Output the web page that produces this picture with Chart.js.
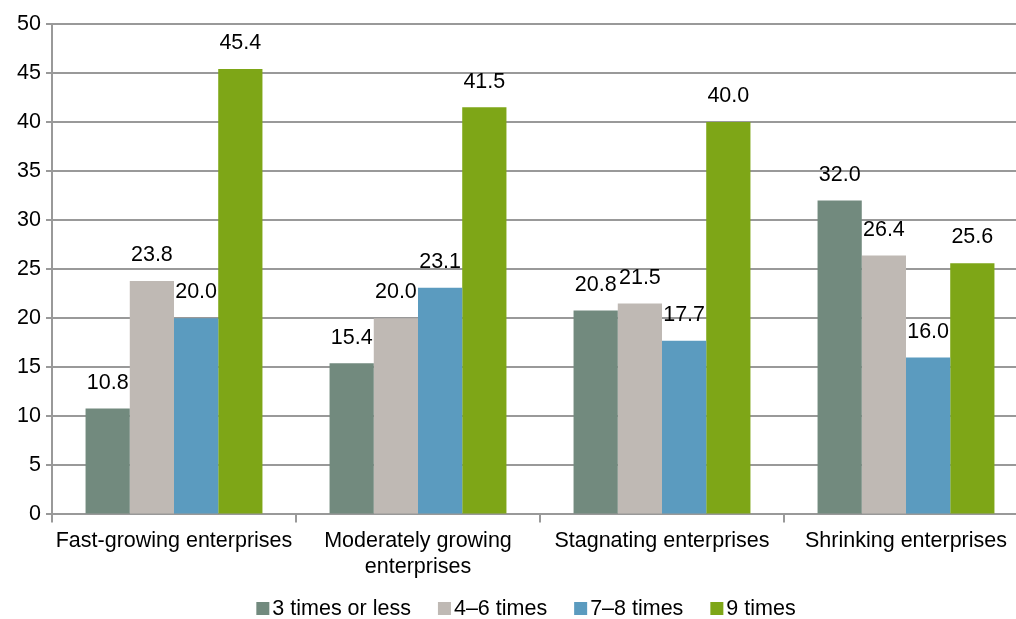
<!DOCTYPE html>
<html>
<head>
<meta charset="utf-8">
<script src="https://cdn.jsdelivr.net/npm/chart.js@4/dist/chart.umd.min.js"></script>
<style>
  html, body { margin: 0; padding: 0; background: #fff; overflow: hidden; }
  #wrap { width: 1016px; height: 619px; overflow: hidden; }
</style>
</head>
<body>
<div id="wrap"><canvas id="chart" width="1030" height="619"></canvas></div>
<script>
// categories and series
var categories = ['Fast-growing enterprises', ['Moderately growing', 'enterprises'], 'Stagnating enterprises', 'Shrinking enterprises'];
var seriesNames = ['3 times or less', '4\u20136 times', '7\u20138 times', '9 times'];
var times3OrLess = [10.8, 15.4, 20.8, 32.0];
var times4to6 = [23.8, 20.0, 21.5, 26.4];
var times7to8 = [20.0, 23.1, 17.7, 16.0];
var times9 = [45.4, 41.5, 40.0, 25.6];
var colors = ['#728a7e', '#bfb9b4', '#5b9bbf', '#7ea617'];

var FONT = '"Liberation Sans", Arial, sans-serif';
var FS = 21.5;

// value labels above each bar
var barLabels = {
  id: 'barLabels',
  afterDatasetsDraw: function (chart) {
    var ctx = chart.ctx;
    ctx.save();
    ctx.font = FS + 'px ' + FONT;
    ctx.fillStyle = '#000';
    ctx.textAlign = 'center';
    ctx.textBaseline = 'bottom';
    chart.data.datasets.forEach(function (ds, i) {
      chart.getDatasetMeta(i).data.forEach(function (bar, j) {
        ctx.fillText(ds.data[j].toFixed(1), bar.x, bar.y - 15);
      });
    });
    ctx.restore();
  }
};

// legend drawn by hand: the Excel one has the text tight against the box
var tightLegend = {
  id: 'tightLegend',
  afterDraw: function (chart) {
    var ctx = chart.ctx;
    var box = 13, gapText = 3, gapItem = 27, y = 608.5;
    ctx.save();
    ctx.font = FS + 'px ' + FONT;
    ctx.textBaseline = 'middle';
    var widths = chart.data.datasets.map(function (ds) { return ctx.measureText(ds.label).width; });
    var total = widths.reduce(function (a, w) { return a + box + gapText + w; }, 0) + gapItem * (widths.length - 1);
    var x = 526 - total / 2;
    chart.data.datasets.forEach(function (ds, i) {
      ctx.fillStyle = ds.backgroundColor;
      ctx.fillRect(x, y - box / 2, box, box);
      x += box + gapText;
      ctx.fillStyle = '#000';
      ctx.fillText(ds.label, x, y + 1);
      x += widths[i] + gapItem;
    });
    ctx.restore();
  }
};

var allSeries = [times3OrLess, times4to6, times7to8, times9];

new Chart(document.getElementById('chart'), {
  type: 'bar',
  data: {
    labels: categories,
    datasets: allSeries.map(function (vals, i) {
      return {
        label: seriesNames[i],
        data: vals,
        backgroundColor: colors[i],
        borderWidth: 0,
        categoryPercentage: 0.725,
        barPercentage: 1.0
      };
    })
  },
  options: {
    responsive: false,
    animation: false,
    layout: { padding: { top: 24, right: 2, left: 0, bottom: 33 } },
    plugins: {
      tooltip: { enabled: false },
      legend: { display: false }
    },
    scales: {
      x: {
        grid: { offset: true, drawOnChartArea: false, color: '#999', lineWidth: 2, tickLength: 8 },
        border: { color: '#999', width: 2 },
        ticks: { font: { size: FS, family: FONT, lineHeight: 1.2 }, color: '#000', maxRotation: 0, padding: 6 }
      },
      y: {
        min: 0,
        max: 50,
        afterFit: function (scale) { scale.width = 52; },
        ticks: { stepSize: 5, font: { size: FS, family: FONT }, color: '#000', padding: 5 },
        grid: { color: '#999', lineWidth: 2, tickLength: 6 },
        border: { color: '#999', width: 2 }
      }
    }
  },
  plugins: [barLabels, tightLegend]
});
</script>
</body>
</html>
